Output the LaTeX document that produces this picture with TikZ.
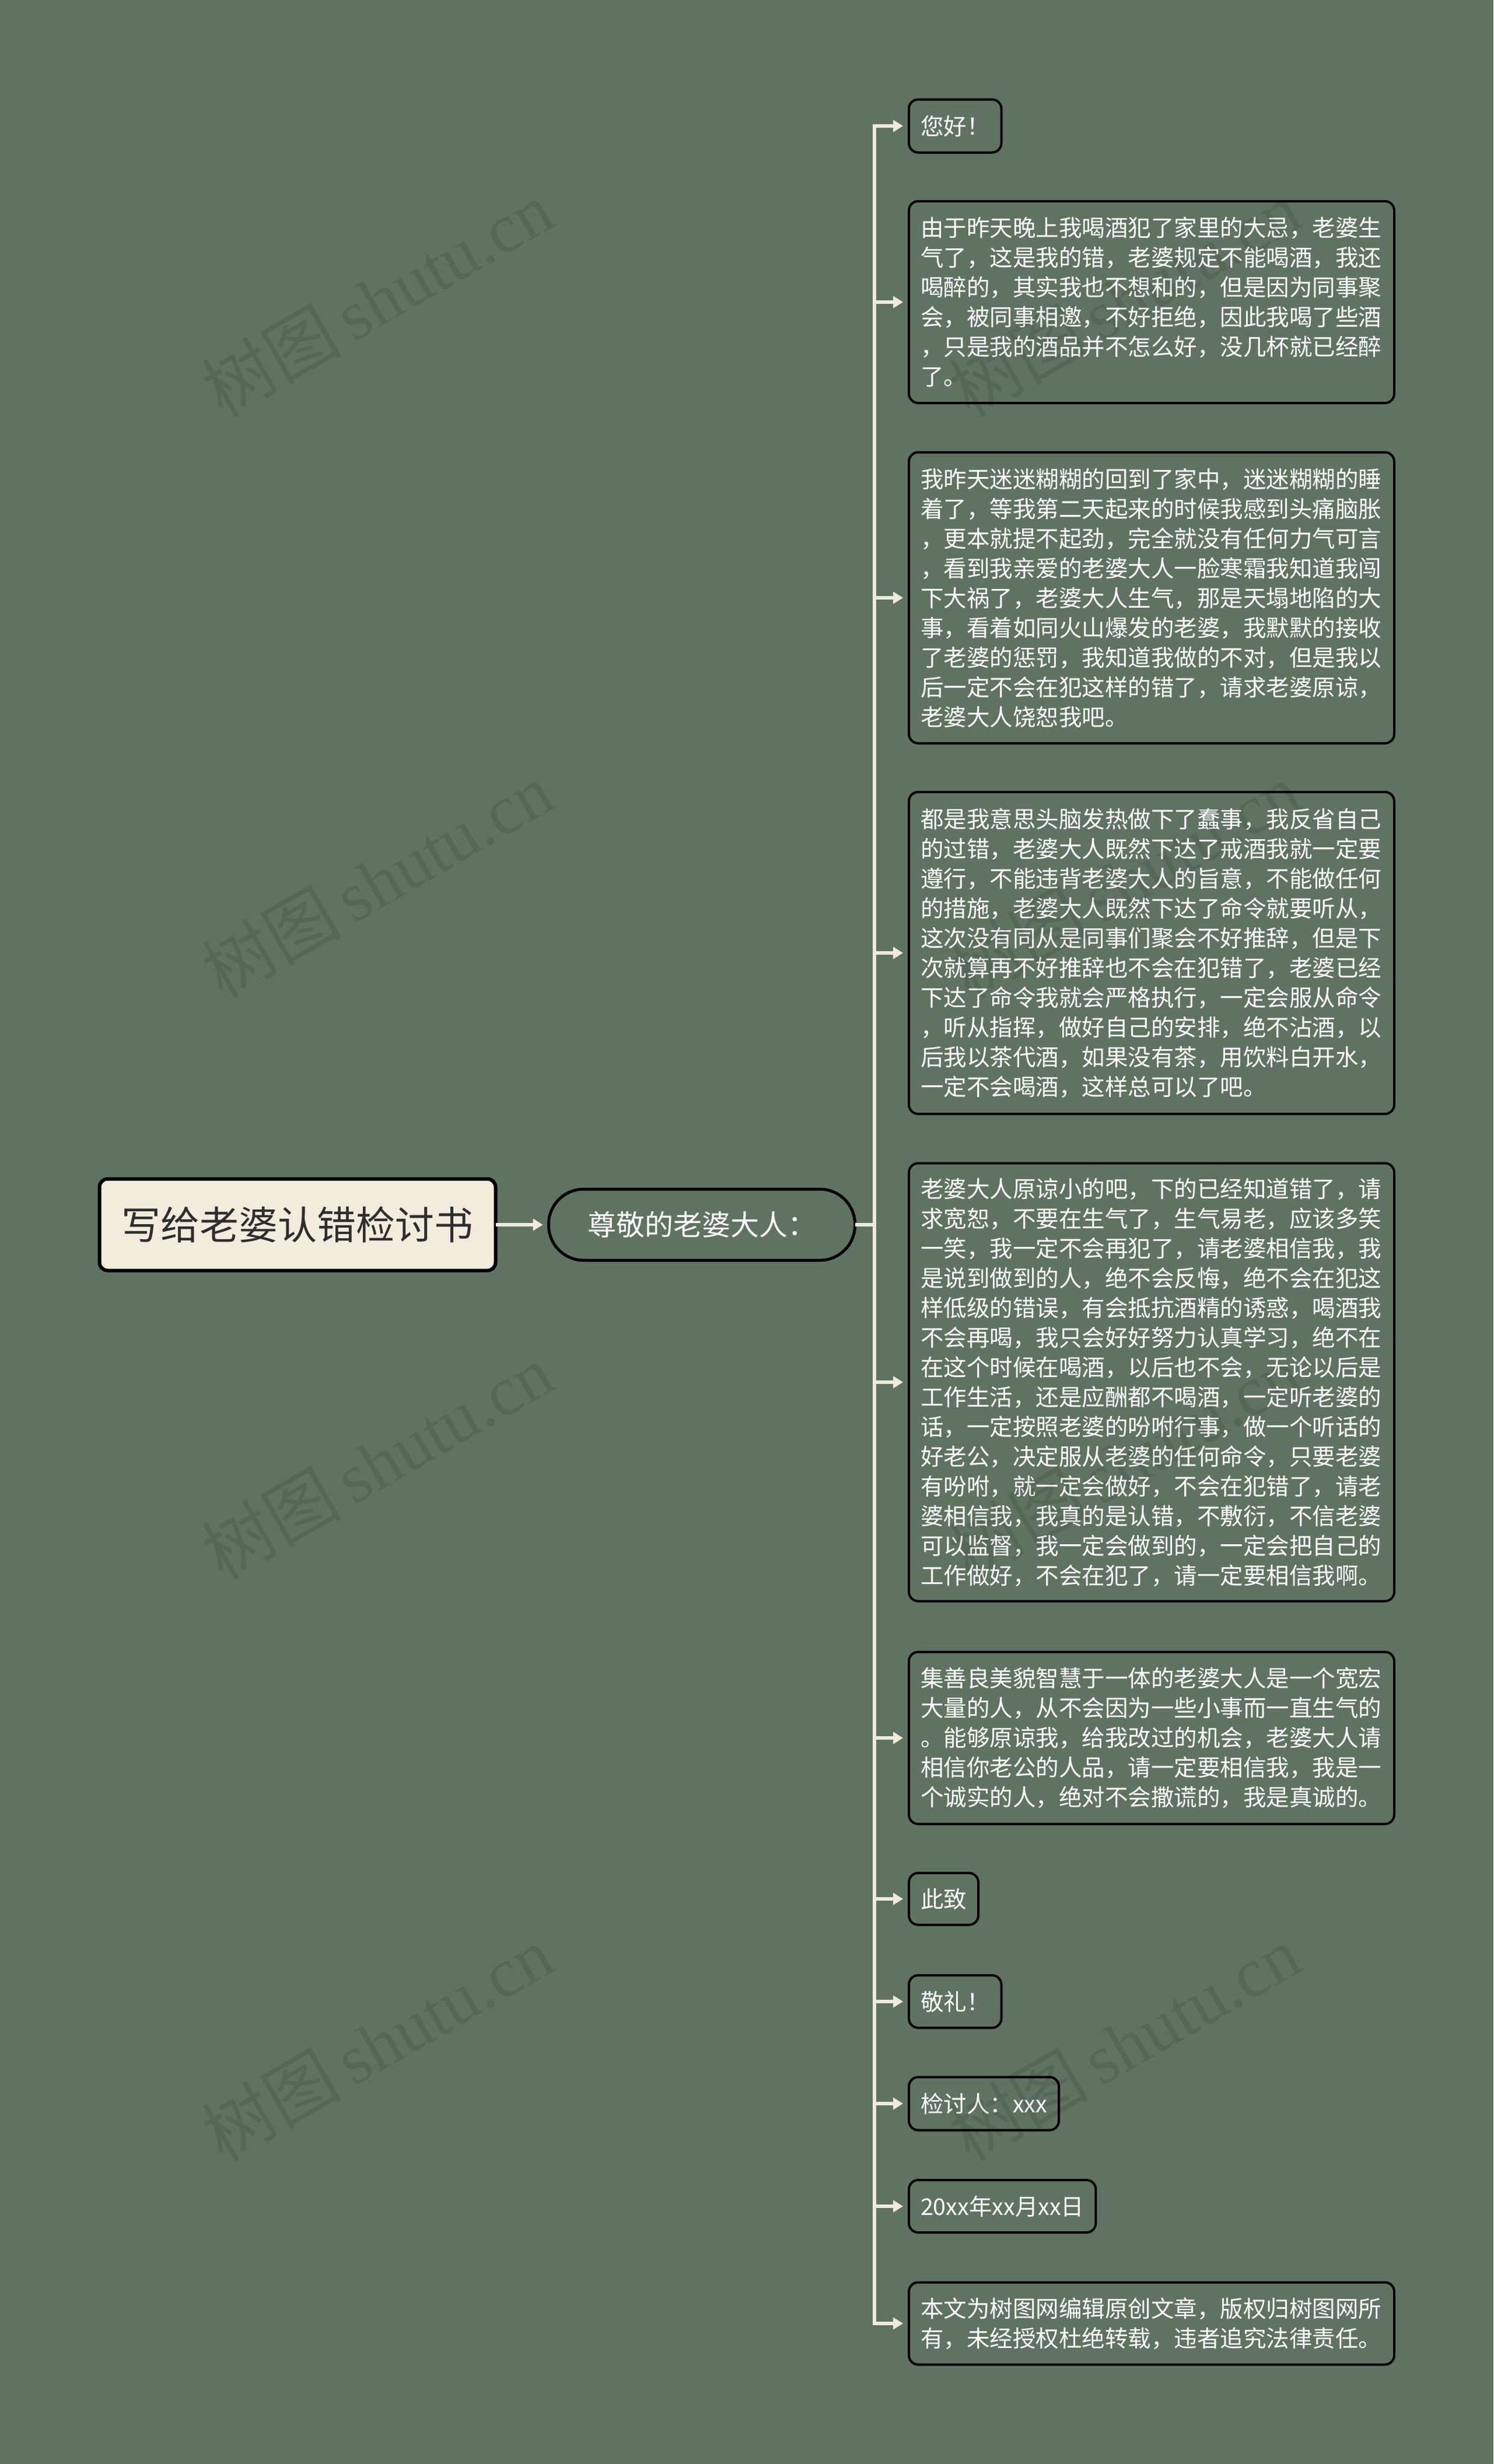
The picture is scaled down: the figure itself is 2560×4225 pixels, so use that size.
\documentclass[tikz,border=0pt]{standalone}
\usepackage{fontspec}
\setmainfont{Noto Sans CJK SC}
\newfontfamily\wmserif{Liberation Serif}
\usetikzlibrary{arrows.meta}
\definecolor{bgc}{HTML}{607362}
\definecolor{cream}{HTML}{EFEBDB}
\definecolor{rootfill}{HTML}{F1ECDC}
\definecolor{darktext}{HTML}{2E2E2E}
\begin{document}
\begin{tikzpicture}[x=1pt,y=-1pt,
  link/.style={draw=cream,line width=6pt},
  arr/.style={link,-{Triangle[length=17pt,width=20pt]},shorten >=10pt},
  leaf/.style={draw=black,line width=4pt,fill=bgc,rounded corners=16pt,anchor=west,
    inner xsep=20pt,inner ysep=0pt,outer sep=0pt,text=white,align=left,
    font=\fontsize{39.5pt}{51pt}\selectfont},
  longleaf/.style={leaf,text width=792pt},
  rootbox/.style={draw=black,line width=6pt,fill=rootfill,rounded corners=14pt,
    inner sep=0pt,outer sep=0pt,text=darktext,minimum width=679pt,minimum height=157pt,
    font=\fontsize{67pt}{70pt}\selectfont},
  midbox/.style={draw=black,line width=5pt,fill=bgc,rounded corners=60pt,
    inner sep=0pt,outer sep=0pt,text=white,minimum width=525pt,minimum height=122pt,
    font=\fontsize{49pt}{52pt}\selectfont},
  wm/.style={text=black,opacity=0.1,rotate=30,inner sep=0pt,
    font=\fontsize{120pt}{122pt}\selectfont}
]
\useasboundingbox (0,0) rectangle (2560,4225);
\fill[bgc] (0,0) rectangle (2560,4225);

\node[rootbox] (root) at (510,2100) {写给老婆认错检讨书};
\node[midbox] (mid) at (1203,2100) {尊敬的老婆大人：};
\coordinate (J) at (1499,2100);

\node[leaf,minimum height=91pt] (l1) at (1558,216) {您好！};
\node[longleaf,minimum height=346pt] (l2) at (1558,518) {由于昨天晚上我喝酒犯了家里的大忌，老婆生\\气了，这是我的错，老婆规定不能喝酒，我还\\喝醉的，其实我也不想和的，但是因为同事聚\\会，被同事相邀，不好拒绝，因此我喝了些酒\\，只是我的酒品并不怎么好，没几杯就已经醉\\了。};
\node[longleaf,minimum height=499pt] (l3) at (1558,1025) {我昨天迷迷糊糊的回到了家中，迷迷糊糊的睡\\着了，等我第二天起来的时候我感到头痛脑胀\\，更本就提不起劲，完全就没有任何力气可言\\，看到我亲爱的老婆大人一脸寒霜我知道我闯\\下大祸了，老婆大人生气，那是天塌地陷的大\\事，看着如同火山爆发的老婆，我默默的接收\\了老婆的惩罚，我知道我做的不对，但是我以\\后一定不会在犯这样的错了，请求老婆原谅，\\老婆大人饶恕我吧。};
\node[longleaf,minimum height=552pt] (l4) at (1558,1634) {都是我意思头脑发热做下了蠢事，我反省自己\\的过错，老婆大人既然下达了戒酒我就一定要\\遵行，不能违背老婆大人的旨意，不能做任何\\的措施，老婆大人既然下达了命令就要听从，\\这次没有同从是同事们聚会不好推辞，但是下\\次就算再不好推辞也不会在犯错了，老婆已经\\下达了命令我就会严格执行，一定会服从命令\\，听从指挥，做好自己的安排，绝不沾酒，以\\后我以茶代酒，如果没有茶，用饮料白开水，\\一定不会喝酒，这样总可以了吧。};
\node[longleaf,minimum height=751pt] (l5) at (1558,2370) {老婆大人原谅小的吧，下的已经知道错了，请\\求宽恕，不要在生气了，生气易老，应该多笑\\一笑，我一定不会再犯了，请老婆相信我，我\\是说到做到的人，绝不会反悔，绝不会在犯这\\样低级的错误，有会抵抗酒精的诱惑，喝酒我\\不会再喝，我只会好好努力认真学习，绝不在\\在这个时候在喝酒，以后也不会，无论以后是\\工作生活，还是应酬都不喝酒，一定听老婆的\\话，一定按照老婆的吩咐行事，做一个听话的\\好老公，决定服从老婆的任何命令，只要老婆\\有吩咐，就一定会做好，不会在犯错了，请老\\婆相信我，我真的是认错，不敷衍，不信老婆\\可以监督，我一定会做到的，一定会把自己的\\工作做好，不会在犯了，请一定要相信我啊。};
\node[longleaf,minimum height=295pt] (l6) at (1558,2980) {集善良美貌智慧于一体的老婆大人是一个宽宏\\大量的人，从不会因为一些小事而一直生气的\\。能够原谅我，给我改过的机会，老婆大人请\\相信你老公的人品，请一定要相信我，我是一\\个诚实的人，绝对不会撒谎的，我是真诚的。};
\node[leaf,minimum height=89pt] (l7) at (1558,3256) {此致};
\node[leaf,minimum height=90pt] (l8) at (1558,3432) {敬礼！};
\node[leaf,minimum height=91pt] (l9) at (1558,3607) {检讨人：xxx};
\node[leaf,minimum height=90pt] (l10) at (1558,3783) {20xx年xx月xx日};
\node[longleaf,minimum height=141pt] (l11) at (1558,3984) {本文为树图网编辑原创文章，版权归树图网所\\有，未经授权杜绝转载，违者追究法律责任。};

\draw[arr] (root.east) -- (mid.west);
\draw[link] (mid.east) -- (J);
\foreach \n in {l1,l2,l3,l4,l5,l6,l7,l8,l9,l10,l11}
  \draw[arr] (J) |- (\n.west);

\foreach \i/\px/\py in {1/646/512,2/646/1509,3/646/2506,4/646/3503,5/1927/512,6/1927/1509,7/1927/2506,8/1927/3503}
  \node[wm] (wm\i) at (\px,\py) {树图\,{\wmserif shutu.cn}};
\end{tikzpicture}
\end{document}
